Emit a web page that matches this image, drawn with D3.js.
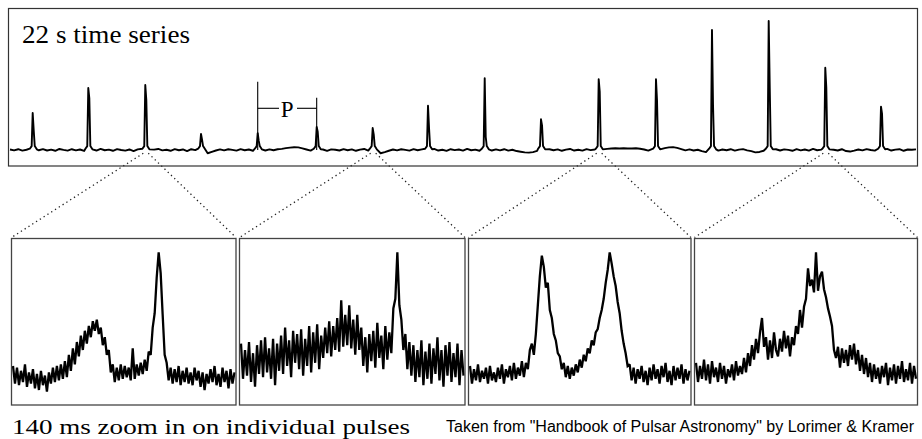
<!DOCTYPE html>
<html><head><meta charset="utf-8">
<script src="https://cdn.jsdelivr.net/npm/d3@7"></script>
<style>html,body{margin:0;padding:0;background:#fff;} svg{display:block;}</style>
</head><body>
<svg id="c" width="922" height="439"></svg>
<script>
// ---------- DATA ----------
const seriesDuration = 22; // seconds
const baselineStep = 0.1;  // seconds between baseline samples
const baselineValues = [
 0.4,-0.3,0.6,-0.5,0.2,-0.8,0.5,-0.2,0.7,-0.4,0.3,-0.6,0.8,0.1,-0.5,0.6,-0.3,0.4,-0.7,0.2,
 0.5,-0.4,0.9,-0.2,0.3,-0.6,0.7,0.0,-0.5,0.4,-0.8,0.5,-0.1,0.6,-0.4,0.3,0.8,-0.3,0.2,-0.6,
 0.7,-0.2,0.4,-0.9,0.6,-0.1,0.3,-1.2,-2.5,-1.4,-0.4,0.5,-0.3,0.6,0.1,-0.5,0.7,-0.2,0.4,-0.6,
 0.3,0.8,-0.4,0.5,-0.2,0.6,0.9,1.4,1.8,2.1,2.0,1.3,0.4,-0.5,0.6,-0.3,0.4,-0.7,0.5,0.2,
 -0.4,0.7,-0.2,0.5,-0.6,0.3,0.8,-0.5,-1.2,-2.2,-2.5,-1.6,-0.6,0.4,-0.3,0.6,0.1,-0.5,0.7,-0.2,
 0.5,-0.6,0.3,0.8,-0.4,0.2,-0.7,0.6,-0.1,0.4,-0.5,0.9,-0.2,0.3,-0.6,0.7,0.0,-0.4,0.5,-0.3,
 0.6,-0.5,0.2,-0.8,-1.3,-1.8,-2.0,-1.6,-0.7,0.4,-0.3,0.6,-0.2,0.5,-0.6,0.3,0.8,-0.4,0.2,-0.5,
 0.7,-0.1,0.4,-0.6,0.5,0.9,1.1,1.3,1.2,1.3,1.2,1.1,1.3,1.0,0.4,-0.5,0.6,-0.2,0.8,1.4,
 2.0,2.2,1.6,0.7,-0.3,0.5,-0.4,0.2,-0.9,-1.6,-2.0,-1.5,-0.5,0.4,-0.2,0.6,-0.5,0.3,0.7,-0.3,
 -0.9,-1.8,-1.5,-0.6,0.4,-0.2,0.6,-0.4,0.5,0.1,-0.6,0.7,-0.3,0.4,-0.5,0.8,-0.2,0.3,-0.7,0.5,
 0.2,-0.4,0.6,-0.8,-1.2,-0.5,0.4,-0.3,0.7,0.0,-0.5,0.6,-0.2,0.9,-0.4,0.3,0.6,-0.6,0.4,0.2,
 0.5];
const pulseTimes     = [0.551,1.901,3.285,4.638,6.015,7.447,8.807,10.150,11.527,12.894,14.295,15.686,17.046,18.423,19.797,21.150];
const pulsePeaks     = [28.5,47.7,50.0,12.3,13.0,17.7,16.9,34.0,55.2,23.6,54.4,54.4,92.3,99.2,63.3,33.3];
const pulseShoulders = [15,40,38.5,8,7,14,12,17,10,19,45,38.5,34.6,49,48,28];
const periodMarker   = [4,5];          // pulses bracketed by "P"
const periodMarkerTops = [52.5,40.2];  // marker line heights
const zoomedPulses = [2,6,10,14];      // pulses shown in 140 ms zooms
const zoomWindowMs = 140;
const zoom1 = [20,9,19,8,17,10,21,7,16,9,18,6,15,5,17,8,14,4,16,9,19,10,20,11,21,12,23,13,27,17,31,21,35,26,39,30,42,34,45,38,48,42,49,40,44,33,38,27,30,16,21,10,19,11,21,12,20,13,19,11,31,12,21,14,22,15,24,17,29,27,44,53,75,91,78,52,27,22,11,19,9,18,10,20,8,17,10,19,9,16,8,19,11,17,7,16,5,15,9,18,10,20,8,15,7,19,10,17,6,18,9,16];
const zoom2 = [34,12,30,14,35,10,28,7,33,15,36,13,38,16,31,12,37,8,34,17,39,15,44,20,36,13,42,22,40,18,43,14,37,20,45,16,41,22,46,18,39,25,44,28,48,26,45,30,50,29,61,32,52,33,58,31,49,27,52,30,44,20,38,16,40,23,42,19,47,25,39,18,45,24,41,28,56,62,91,58,49,30,40,18,35,14,33,10,30,13,36,8,29,12,34,9,31,15,38,11,30,7,33,14,35,10,28,13,34,8,30,14];
const zoom3 = [20,9,18,11,21,10,17,12,19,9,20,11,16,10,19,12,21,9,18,13,20,11,22,12,19,14,23,13,22,18,30,34,27,40,58,76,89,82,69,72,55,50,40,36,28,26,18,22,13,20,12,19,14,21,16,24,19,27,23,31,28,36,33,41,43,50,55,62,72,80,91,84,76,70,60,53,42,34,28,20,21,11,19,9,18,12,20,10,17,8,19,11,21,12,18,9,20,13,22,10,17,8,20,11,19,12,21,9,18,11,17];
const zoom4 = [22,10,20,12,24,11,21,9,23,13,19,10,22,12,20,9,18,13,21,11,23,14,20,15,25,16,28,20,33,24,37,28,41,50,32,38,24,36,25,41,30,26,37,29,42,31,39,26,38,33,45,40,55,44,57,62,81,70,74,66,91,67,76,79,68,63,56,51,45,30,25,32,19,31,22,30,20,33,24,34,21,30,17,27,15,25,13,22,10,21,12,19,9,20,13,22,8,19,11,21,9,20,12,23,10,18,11,22,9,20,12];
const zoomSeries = [zoom1, zoom2, zoom3, zoom4];
const titleTop = "22 s time series";
const periodLabel = "P";
const titleBottom = "140 ms zoom in on individual pulses";
const credit = 'Taken from "Handbook of Pulsar Astronomy"  by Lorimer & Kramer';

// ---------- LAYOUT ----------
const svg = d3.select("#c");
const topBox = {x0: 8.5, x1: 917.5, y0: 8.5, y1: 166};
const panels = [{x0:11.5,x1:236},{x0:239.5,x1:465},{x0:468.5,x1:691},{x0:694.5,x1:917.5}];
const pY0 = 238.5, pY1 = 405;

const xTop = d3.scaleLinear().domain([0, seriesDuration]).range([10, 916]);
const yTop = d3.scaleLinear().domain([0, 100]).range([150, 20]);

// build top series: baseline samples outside pulse windows + pulse samples
const inPulse = t => pulseTimes.some(pt => t > pt - 0.09 && t < pt + 0.12);
const pts = baselineValues.map((v,i) => [i*baselineStep, v]).filter(d => !inPulse(d[0]));
pulseTimes.forEach((t,i) => {
  pts.push([t-0.07, 1]);
  pts.push([t-0.025, 3]);
  pts.push([t, pulsePeaks[i]]);
  pts.push([t+0.025, pulseShoulders[i]]);
  pts.push([t+0.05, 3]);
  pts.push([t+0.1, 0.5]);
});
pts.sort((a,b)=>a[0]-b[0]);

// dotted connectors
const dotted = svg.append("g").attr("stroke","#222").attr("stroke-width",1.3)
  .attr("stroke-dasharray","1.3 3.2").attr("fill","none");
zoomedPulses.forEach((pi,k) => {
  const px = xTop(pulseTimes[pi]);
  const py = yTop(-2.5);
  const p = panels[k];
  dotted.append("line").attr("x1",px-2).attr("y1",py).attr("x2",p.x0).attr("y2",pY0-1);
  dotted.append("line").attr("x1",px+3).attr("y1",py).attr("x2",p.x1).attr("y2",pY0-1);
});

// top box
svg.append("rect").attr("x",topBox.x0).attr("y",topBox.y0)
  .attr("width",topBox.x1-topBox.x0).attr("height",topBox.y1-topBox.y0)
  .attr("fill","none").attr("stroke","#333").attr("stroke-width",1.2);

svg.append("path").datum(pts)
  .attr("d", d3.line().x(d=>xTop(d[0])).y(d=>yTop(d[1])))
  .attr("fill","none").attr("stroke","#000").attr("stroke-width",1.9).attr("stroke-linejoin","round");

// period marker
const mk = svg.append("g").attr("stroke","#000").attr("stroke-width",1.1);
const mxa = xTop(pulseTimes[periodMarker[0]]), mxb = xTop(pulseTimes[periodMarker[1]]);
mk.append("line").attr("x1",mxa).attr("x2",mxa).attr("y1",yTop(periodMarkerTops[0])).attr("y2",yTop(0));
mk.append("line").attr("x1",mxb).attr("x2",mxb).attr("y1",yTop(periodMarkerTops[1])).attr("y2",yTop(0));
const my = 108.3;
mk.append("line").attr("x1",mxa).attr("x2",279).attr("y1",my).attr("y2",my);
mk.append("line").attr("x1",297).attr("x2",mxb).attr("y1",my).attr("y2",my);
svg.append("text").attr("x",(mxa+mxb)/2).attr("y",116.5).attr("text-anchor","middle")
  .attr("font-family","Liberation Serif, serif").attr("font-size",23).text(periodLabel);

svg.append("text").attr("x",22).attr("y",43).attr("font-family","Liberation Serif, serif")
  .attr("font-size",25).attr("textLength",168).attr("lengthAdjust","spacingAndGlyphs").text(titleTop);

// bottom panels
const yZ = d3.scaleLinear().domain([0,100]).range([398, 238]);
panels.forEach((p,k) => {
  const data = zoomSeries[k];
  const xZ = d3.scaleLinear().domain([0, zoomWindowMs]).range([p.x0+1.5, p.x1-1.5]);
  const step = zoomWindowMs/(data.length-1);
  svg.append("path").datum(data)
    .attr("d", d3.line().x((d,i)=>xZ(i*step)).y(d=>yZ(d)))
    .attr("fill","none").attr("stroke","#000").attr("stroke-width",2.3).attr("stroke-linejoin","miter").attr("stroke-miterlimit",2);
  svg.append("rect").attr("x",p.x0).attr("y",pY0).attr("width",p.x1-p.x0).attr("height",pY1-pY0)
    .attr("fill","none").attr("stroke","#444").attr("stroke-width",1.3);
});

svg.append("text").attr("x",12).attr("y",434).attr("font-family","Liberation Serif, serif")
  .attr("font-size",21).attr("textLength",398).attr("lengthAdjust","spacingAndGlyphs").text(titleBottom);
svg.append("text").attr("x",446).attr("y",432).attr("font-family","Liberation Sans, sans-serif")
  .attr("font-size",16).attr("textLength",468).attr("lengthAdjust","spacingAndGlyphs").text(credit);
</script>
</body></html>
